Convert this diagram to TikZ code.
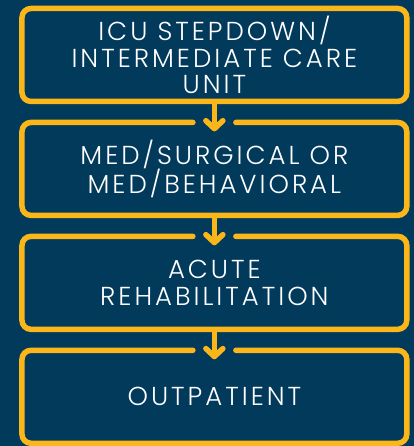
\documentclass[tikz,border=0pt]{standalone}
\usepackage{fontspec}
\setmainfont{Poppins Light}[LetterSpace=11.5]
\usetikzlibrary{calc,arrows.meta}
\definecolor{unitnavy}{HTML}{023A5C}
\definecolor{unitgold}{HTML}{FBB61A}

\begin{document}
\begin{tikzpicture}[x=1pt, y=-1pt,
    box/.style={line width=5.5pt, rounded corners=9pt, outer sep=0pt, inner sep=2pt,
                align=center, minimum width=385pt, minimum height=93pt, text=white,
                font=\fontsize{26}{26.5}\selectfont},
    rim/.style={draw=unitgold, line width=5.5pt, rounded corners=9pt, line cap=round},
    arrow/.style={-{Straight Barb[length=8pt, width=17pt, round]}, draw=unitgold,
                  line width=5.5pt, shorten >=-9pt}
  ]
  \fill[unitnavy] (0,0) rectangle (414,446);

  \node[box, draw=unitgold] (icu) at (214.5,55) {ICU STEPDOWN/\\INTERMEDIATE CARE\\UNIT};
  \node[box] (med)   at (214.5,169) {MED/SURGICAL OR\\MED/BEHAVIORAL};
  \node[box] (acute) at (214.5,283) {ACUTE\\REHABILITATION};
  \node[box] (outp)  at (214.5,397) {OUTPATIENT};

  % open top edges where the arrows come in
  \draw[rim] ([xshift=-21.5pt]med.north) -- (med.north west) -- (med.south west)
    -- (med.south east) -- (med.north east) -- ([xshift=21.5pt]med.north);
  \draw[rim] ([xshift=-21.5pt]acute.north) -- (acute.north west) -- (acute.south west)
    -- (acute.south east) -- (acute.north east) -- ([xshift=21.5pt]acute.north);
  \draw[rim] ([xshift=-21.5pt]outp.north) -- (outp.north west) -- (outp.south west)
    -- (outp.south east) -- (outp.north east) -- ([xshift=21.5pt]outp.north);

  \draw[arrow] (icu) -- (med);
  \draw[arrow] (med) -- (acute);
  \draw[arrow] (acute) -- (outp);
\end{tikzpicture}
\end{document}
